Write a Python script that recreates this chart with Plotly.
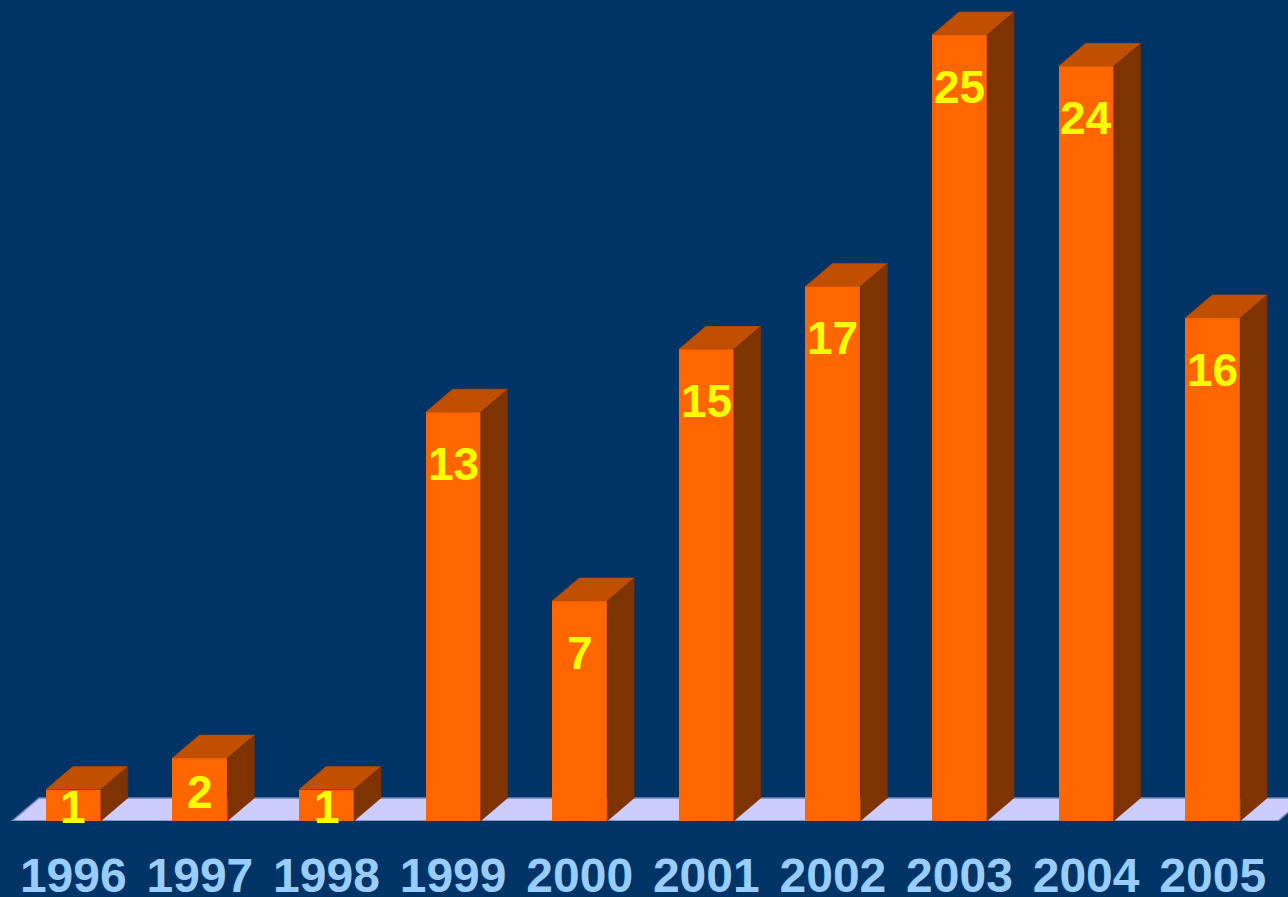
import plotly.graph_objects as go

years = ["1996", "1997", "1998", "1999", "2000", "2001", "2002", "2003", "2004", "2005"]
values = [1, 2, 1, 13, 7, 15, 17, 25, 24, 16]

BG = "#003366"
FRONT = "#FF6600"
TOP = "#C04F00"
SIDE = "#7F3300"
FLOOR = "#CCCCFF"

W, H = 1288, 897
ML, MR, MT, MB = 10, 0, 0, 76
n = len(years)
px_per_cat = 126.6
extra = (W - ML - MR - n * px_per_cat) / px_per_cat
ymax = 26.11
px_per_val = (H - MT - MB) / ymax

bar_w = 55 / px_per_cat
dx = 27 / px_per_cat
dy = 23 / px_per_val

xs = list(range(n))

fig = go.Figure()

# front faces
fig.add_trace(go.Bar(x=xs, y=values, width=bar_w, marker=dict(color=FRONT, line=dict(width=0)),
                     hoverinfo="skip", showlegend=False))

# top and side faces
tx, ty, sx, sy = [], [], [], []
for x, v in zip(xs, values):
    xl, xr = x - bar_w / 2, x + bar_w / 2
    tx += [xl, xl + dx, xr + dx, xr, xl, None]
    ty += [v, v + dy, v + dy, v, v, None]
    sx += [xr, xr + dx, xr + dx, xr, xr, None]
    sy += [0, dy, v + dy, v, 0, None]

fig.add_trace(go.Scatter(x=tx, y=ty, mode="lines", fill="toself", fillcolor=TOP,
                         line=dict(width=0.5, color=TOP), hoverinfo="skip", showlegend=False))
fig.add_trace(go.Scatter(x=sx, y=sy, mode="lines", fill="toself", fillcolor=SIDE,
                         line=dict(width=0.5, color=SIDE), hoverinfo="skip", showlegend=False))

# floor
fl = -0.5 + 2 / px_per_cat
fr = n - 0.5 + 2 / px_per_cat
fig.add_shape(type="path", xref="x", yref="y", layer="below",
              path=f"M {fl},0 L {fr},0 L {fr + dx},{dy} L {fl + dx},{dy} Z",
              fillcolor=FLOOR, line=dict(color="#6F86B8", width=1.5))

# value labels
for x, v in zip(xs, values):
    off = min(52, 17 * v)
    fig.add_annotation(x=x, y=v, xref="x", yref="y", text=f"<b>{v}</b>", showarrow=False,
                       yshift=-off, yanchor="middle",
                       font=dict(family="Liberation Sans, Arial", size=46, color="#FFFF00"))

fig.update_layout(
    width=W, height=H,
    margin=dict(l=ML, r=MR, t=MT, b=MB),
    paper_bgcolor=BG, plot_bgcolor=BG,
    bargap=0,
    xaxis=dict(range=[-0.5, n - 0.5 + extra], tickmode="array", tickvals=xs,
               ticktext=[f"<b>{y}</b>" for y in years],
               tickfont=dict(family="Liberation Sans, Arial", size=48, color="#99CCFF"),
               showgrid=False, zeroline=False, showline=False, ticks="",
               ticklabelstandoff=22, automargin=False, fixedrange=True),
    yaxis=dict(range=[0, ymax], visible=False, showgrid=False, zeroline=False,
               fixedrange=True),
    showlegend=False,
)

fig.write_html("out.html")
